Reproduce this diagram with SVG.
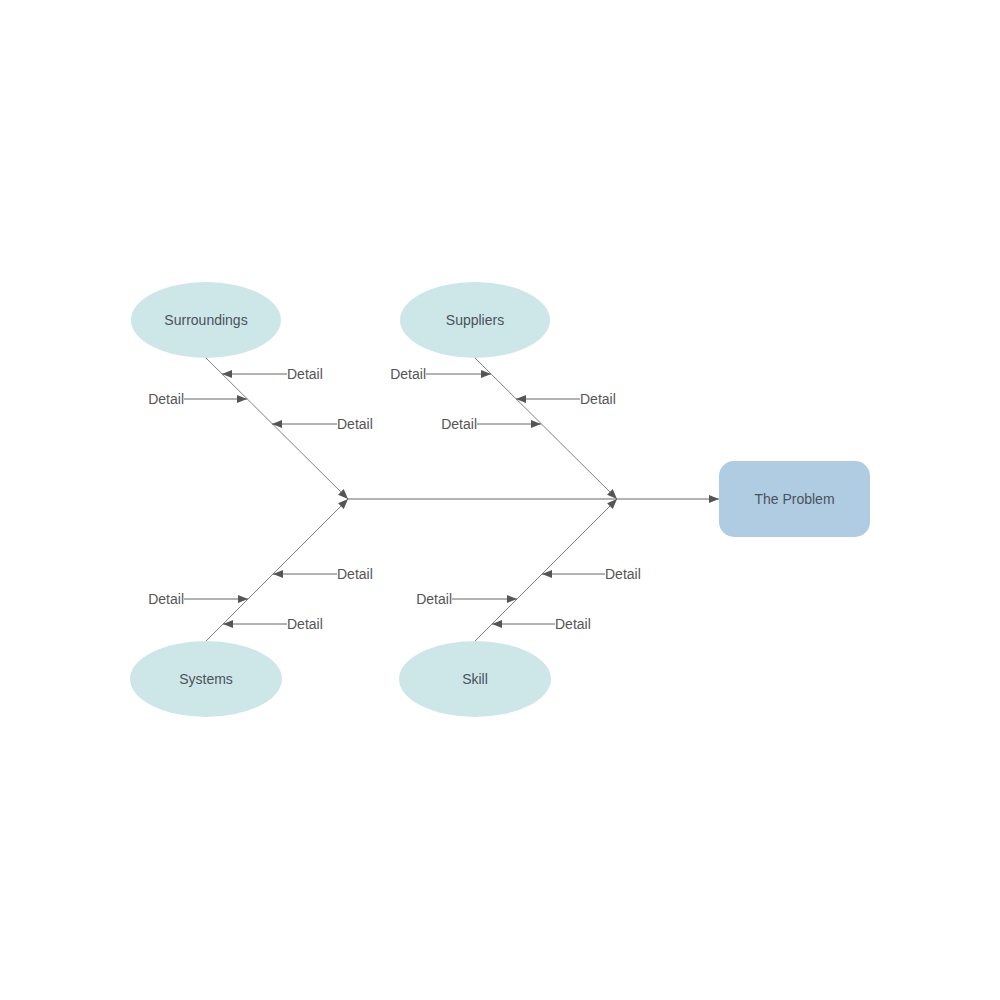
<svg xmlns="http://www.w3.org/2000/svg" width="1000" height="1000" viewBox="0 0 1000 1000">
<defs>
<marker id="arr" viewBox="0 0 10 10" refX="10" refY="5" markerWidth="10" markerHeight="10" markerUnits="userSpaceOnUse" orient="auto">
<path d="M0,1 L10,5 L0,9 Z" fill="#555"/>
</marker>
</defs>
<style>
.cause{fill:#cde6e8}
.prob{fill:#b0cce3}
.lbl{font-family:"Liberation Sans",Arial,sans-serif;font-size:14px;fill:#4a525a;text-anchor:middle;dominant-baseline:central}
.det{font-family:"Liberation Sans",Arial,sans-serif;font-size:14px;fill:#555;dominant-baseline:central}
.bone{stroke:#808080;stroke-width:1;fill:none}
.rib{stroke:#666;stroke-width:1;fill:none;marker-end:url(#arr)}
</style>
<rect width="1000" height="1000" fill="#fff"/>
<g id="connectors">
<line class="bone" x1="206" y1="358" x2="348" y2="499" marker-end="url(#arr)"/>
<line class="bone" x1="206" y1="641" x2="348" y2="499" marker-end="url(#arr)"/>
<line class="bone" x1="475" y1="358" x2="617" y2="499" marker-end="url(#arr)"/>
<line class="bone" x1="475" y1="641" x2="617" y2="499" marker-end="url(#arr)"/>
<line class="rib" x1="348" y1="499" x2="719" y2="499"/>
<line class="rib" x1="287" y1="374" x2="222" y2="374"/>
<line class="rib" x1="184" y1="399" x2="247" y2="399"/>
<line class="rib" x1="337" y1="424" x2="272" y2="424"/>
<line class="rib" x1="426" y1="374" x2="491" y2="374"/>
<line class="rib" x1="580" y1="399" x2="516" y2="399"/>
<line class="rib" x1="477" y1="424" x2="541" y2="424"/>
<line class="rib" x1="337" y1="574" x2="273" y2="574"/>
<line class="rib" x1="184" y1="599" x2="248" y2="599"/>
<line class="rib" x1="287" y1="624" x2="223" y2="624"/>
<line class="rib" x1="605" y1="574" x2="542" y2="574"/>
<line class="rib" x1="452" y1="599" x2="517" y2="599"/>
<line class="rib" x1="555" y1="624" x2="492" y2="624"/>
</g>
<g id="details">
<text class="det" x="287" y="374">Detail</text>
<text class="det" x="184" y="399" text-anchor="end">Detail</text>
<text class="det" x="337" y="424">Detail</text>
<text class="det" x="426" y="374" text-anchor="end">Detail</text>
<text class="det" x="580" y="399">Detail</text>
<text class="det" x="477" y="424" text-anchor="end">Detail</text>
<text class="det" x="337" y="574">Detail</text>
<text class="det" x="184" y="599" text-anchor="end">Detail</text>
<text class="det" x="287" y="624">Detail</text>
<text class="det" x="605" y="574">Detail</text>
<text class="det" x="452" y="599" text-anchor="end">Detail</text>
<text class="det" x="555" y="624">Detail</text>
</g>
<g id="surroundings">
<ellipse class="cause" cx="206" cy="320" rx="75" ry="38"/>
<text class="lbl" x="206" y="320">Surroundings</text>
</g>
<g id="suppliers">
<ellipse class="cause" cx="475" cy="320" rx="75" ry="38"/>
<text class="lbl" x="475" y="320">Suppliers</text>
</g>
<g id="systems">
<ellipse class="cause" cx="206" cy="679" rx="76" ry="38"/>
<text class="lbl" x="206" y="679">Systems</text>
</g>
<g id="skill">
<ellipse class="cause" cx="475" cy="679" rx="76" ry="38"/>
<text class="lbl" x="475" y="679">Skill</text>
</g>
<g id="problem">
<rect class="prob" x="719" y="461" width="151" height="76" rx="15"/>
<text class="lbl" x="794.5" y="499">The Problem</text>
</g>
</svg>
